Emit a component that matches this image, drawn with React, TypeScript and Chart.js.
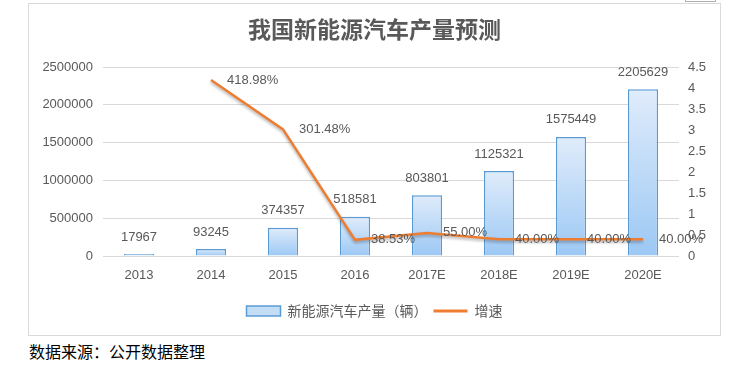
import React, { useEffect, useRef } from "react";
import { Chart, registerables } from "chart.js";

Chart.register(...registerables);

const categories = ["2013", "2014", "2015", "2016", "2017E", "2018E", "2019E", "2020E"];
const production = [17967, 93245, 374357, 518581, 803801, 1125321, 1575449, 2205629];
const growth = [null, 4.1898, 3.0148, 0.3853, 0.55, 0.4, 0.4, 0.4];
const growthLabels = ["", "418.98%", "301.48%", "38.53%", "55.00%", "40.00%", "40.00%", "40.00%"];
const titleText = "我国新能源汽车产量预测";
const barSeriesName = "新能源汽车产量（辆）";
const lineSeriesName = "增速";
const sourceText = "数据来源：公开数据整理";

const GRAY = "#595959";
const NUM_FAMILY = "'Liberation Sans', Arial, sans-serif";
const NUM_FONT = "13px " + NUM_FAMILY;
const CJK = "'Noto Sans CJK SC', sans-serif";

const labelPlugin = {
  id: "valueLabels",
  beforeDatasetDraw(chart: any, args: any) {
    if (args.index === 1) {
      const ctx = chart.ctx;
      ctx.save();
      ctx.shadowColor = "rgba(0,0,0,0.3)";
      ctx.shadowBlur = 3;
      ctx.shadowOffsetY = 2;
    }
  },
  afterDatasetDraw(chart: any, args: any) {
    if (args.index === 1) chart.ctx.restore();
  },
  afterDatasetsDraw(chart: any) {
    const ctx = chart.ctx;
    ctx.save();
    ctx.font = NUM_FONT;
    ctx.fillStyle = GRAY;
    ctx.textBaseline = "middle";
    const barMeta = chart.getDatasetMeta(0);
    ctx.textAlign = "center";
    barMeta.data.forEach((el: any, i: number) => {
      ctx.fillText(String(production[i]), el.x, el.y - 17);
    });
    const lineMeta = chart.getDatasetMeta(1);
    ctx.textAlign = "left";
    lineMeta.data.forEach((el: any, i: number) => {
      if (growth[i] == null) return;
      ctx.fillText(growthLabels[i], el.x + 16, el.y);
    });
    ctx.restore();
  },
};

export default function App() {
  const ref = useRef<HTMLCanvasElement | null>(null);

  useEffect(() => {
    if (!ref.current) return;
    const chart = new Chart(ref.current, {
      type: "bar",
      data: {
        labels: categories,
        datasets: [
          {
            type: "bar",
            label: barSeriesName,
            data: production,
            yAxisID: "y",
            order: 1,
            backgroundColor: (c: any) => {
              const ch = c.chart;
              const ys = ch.scales && ch.scales.y;
              if (!ch.chartArea || !ys || c.parsed == null) return "#bcd8f6";
              const top = ys.getPixelForValue(c.parsed.y);
              const bottom = ys.getPixelForValue(0);
              if (!isFinite(top) || !isFinite(bottom) || bottom - top < 1) return "#bcd8f6";
              const g = ch.ctx.createLinearGradient(0, top, 0, bottom);
              g.addColorStop(0, "#e0ecfb");
              g.addColorStop(1, "#9cc8f4");
              return g;
            },
            borderColor: "#5b9bd5",
            borderWidth: 1.5,
            minBarLength: 2,
            barPercentage: 0.42,
            categoryPercentage: 1,
          } as any,
          {
            type: "line",
            label: lineSeriesName,
            data: growth,
            yAxisID: "y1",
            order: 0,
            borderColor: "#ed7d31",
            backgroundColor: "#ed7d31",
            borderWidth: 2.5,
            pointRadius: 0,
            tension: 0,
            spanGaps: false,
          } as any,
        ],
      },
      options: {
        animation: false,
        responsive: false,
        maintainAspectRatio: false,
        layout: { padding: { left: 0, right: 0, top: 0, bottom: 7 } },
        plugins: {
          tooltip: { enabled: false },
          title: {
            display: true,
            text: titleText,
            color: GRAY,
            font: { family: CJK, size: 23, weight: "bold" },
            padding: { top: 11.7, bottom: 23.7 },
          },
          legend: {
            display: true,
            position: "bottom",
            labels: {
              color: GRAY,
              font: { family: CJK, size: 14 },
              usePointStyle: true,
              pointStyleWidth: 34,
              boxHeight: 10,
              padding: 6,
              generateLabels: () => [
                {
                  text: barSeriesName,
                  fillStyle: "#c4ddf7",
                  strokeStyle: "#5b9bd5",
                  lineWidth: 1.5,
                  pointStyle: "rect",
                  datasetIndex: 0,
                  hidden: false,
                  fontColor: GRAY,
                },
                {
                  text: lineSeriesName,
                  fillStyle: "#ed7d31",
                  strokeStyle: "#ed7d31",
                  lineWidth: 3,
                  pointStyle: "line",
                  datasetIndex: 1,
                  hidden: false,
                  fontColor: GRAY,
                },
              ],
            },
          },
        },
        scales: {
          x: {
            grid: { display: false, drawTicks: false },
            border: { display: false },
            ticks: { color: GRAY, font: { family: NUM_FAMILY, size: 13 }, padding: 12, maxRotation: 0 },
            afterFit: (s: any) => {
              s.height = 42;
            },
          },
          y: {
            position: "left",
            min: 0,
            max: 2500000,
            grid: { color: "#d9d9d9", lineWidth: 1, drawTicks: false },
            border: { display: false },
            ticks: {
              stepSize: 500000,
              color: GRAY,
              font: { family: NUM_FAMILY, size: 13 },
              padding: 10,
              callback: (v: any) => String(v),
            },
            afterFit: (s: any) => {
              s.width = 74;
            },
          },
          y1: {
            position: "right",
            min: 0,
            max: 4.5,
            grid: { display: false, drawTicks: false },
            border: { display: false },
            ticks: {
              stepSize: 0.5,
              color: GRAY,
              font: { family: NUM_FAMILY, size: 13 },
              padding: 9,
              callback: (v: any) => String(Math.round(Number(v) * 10) / 10),
            },
            afterFit: (s: any) => {
              s.width = 41;
            },
          },
        },
      },
      plugins: [labelPlugin],
    } as any);
    return () => chart.destroy();
  }, []);

  return (
    <div style={{ position: "fixed", left: 0, top: 0, width: 738, height: 365, background: "#fff", overflow: "hidden" }}>
      <div
        style={{
          position: "absolute",
          left: 685,
          top: -20,
          width: 29,
          height: 20,
          border: "1px solid #b0b0b0",
        }}
      />
      <div
        style={{
          position: "absolute",
          left: 28,
          top: 3,
          width: 691,
          height: 331,
          border: "1px solid #d9d9d9",
        }}
      >
        <canvas ref={ref} width={691} height={331} style={{ display: "block", width: 691, height: 331 }} />
      </div>
      <div
        style={{
          position: "absolute",
          left: 29,
          top: 341,
          fontFamily: CJK,
          fontSize: 16,
          lineHeight: "20px",
          color: "#000",
          whiteSpace: "nowrap",
        }}
      >
        {sourceText}
      </div>
    </div>
  );
}
